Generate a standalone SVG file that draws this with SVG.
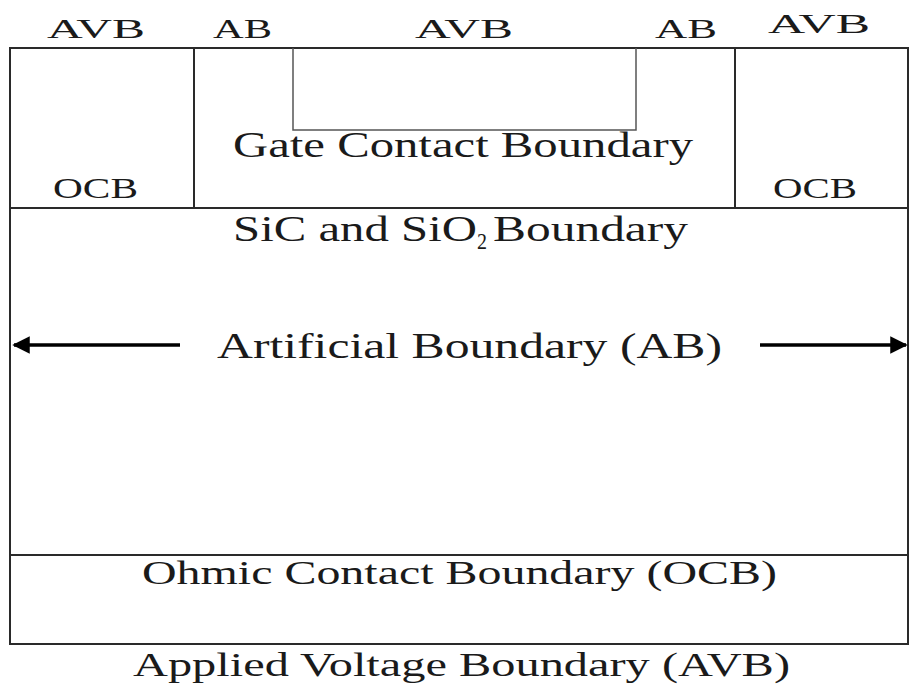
<svg xmlns="http://www.w3.org/2000/svg" width="909" height="684" viewBox="0 0 909 684">
<style>
.t{font-family:"Liberation Serif","Times New Roman",serif;fill:#1a1a1a;}
.ln{stroke:#2a2a2a;stroke-width:2;fill:none;}
.thin{stroke:#555;stroke-width:1.5;fill:none;}
.arr{stroke:#000;stroke-width:3.5;fill:none;}
</style>
<defs>
<marker id="ah" viewBox="0 0 10 10" refX="9" refY="5" markerWidth="8" markerHeight="5" markerUnits="strokeWidth" orient="auto">
<path d="M0,0 L10,5 L0,10 z" fill="#000"/>
</marker>
</defs>
<rect width="909" height="684" fill="#fff"/>
<g id="device">
<rect class="ln" x="10" y="48" width="898" height="596"/>
<line class="ln" x1="10" y1="208" x2="908" y2="208"/>
<line class="ln" x1="194" y1="48" x2="194" y2="208"/>
<line class="ln" x1="735" y1="48" x2="735" y2="208"/>
<line class="ln" x1="10" y1="555" x2="908" y2="555"/>
</g>
<g id="gate">
<polyline class="thin" points="293,48 293,130 636,130 636,48"/>
<text class="t" x="233" y="157" font-size="35" textLength="460" lengthAdjust="spacingAndGlyphs">Gate Contact Boundary</text>
</g>
<g id="top-labels">
<text class="t" x="47" y="38" font-size="27" textLength="98" lengthAdjust="spacingAndGlyphs">AVB</text>
<text class="t" x="213" y="38" font-size="27" textLength="59" lengthAdjust="spacingAndGlyphs">AB</text>
<text class="t" x="415" y="38" font-size="27" textLength="98" lengthAdjust="spacingAndGlyphs">AVB</text>
<text class="t" x="655" y="38" font-size="27" textLength="62" lengthAdjust="spacingAndGlyphs">AB</text>
<text class="t" x="768" y="33" font-size="27" textLength="102" lengthAdjust="spacingAndGlyphs">AVB</text>
</g>
<g id="ocb-left">
<text class="t" x="53" y="198" font-size="29" textLength="85" lengthAdjust="spacingAndGlyphs">OCB</text>
</g>
<g id="ocb-right">
<text class="t" x="773" y="198" font-size="29" textLength="84" lengthAdjust="spacingAndGlyphs">OCB</text>
</g>
<g id="sic">
<text class="t" x="233" y="241" font-size="35" textLength="244" lengthAdjust="spacingAndGlyphs">SiC and SiO</text>
<text class="t" x="477" y="249" font-size="24" textLength="10" lengthAdjust="spacingAndGlyphs">2</text>
<text class="t" x="493" y="241" font-size="35" textLength="195" lengthAdjust="spacingAndGlyphs">Boundary</text>
</g>
<g id="connectors">
<line class="arr" x1="180" y1="345" x2="14" y2="345" marker-end="url(#ah)"/>
<line class="arr" x1="760" y1="345" x2="906" y2="345" marker-end="url(#ah)"/>
</g>
<g id="artificial">
<text class="t" x="217" y="358" font-size="35" textLength="505" lengthAdjust="spacingAndGlyphs">Artificial Boundary (AB)</text>
</g>
<g id="ohmic">
<text class="t" x="142" y="584" font-size="34" textLength="635" lengthAdjust="spacingAndGlyphs">Ohmic Contact Boundary (OCB)</text>
</g>
<g id="avb">
<text class="t" x="133" y="676" font-size="34" textLength="657" lengthAdjust="spacingAndGlyphs">Applied Voltage Boundary (AVB)</text>
</g>
</svg>
